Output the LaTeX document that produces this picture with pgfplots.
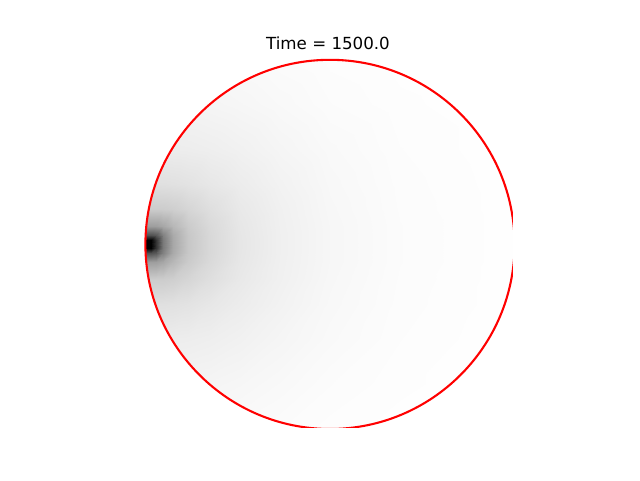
\documentclass[border=0pt]{standalone}
\usepackage{fontspec}
\setmainfont{DejaVu Sans}
\usepackage{pgfplots}
\pgfplotsset{compat=1.18}
\usepackage{pgfplotstable}

% brightness of the field (0 = black, 1 = white), image pixel coordinates
\pgfplotstableread{
x y v
143 57 .975
147 57 .975
151 57 .975
156 57 .975
163 57 .975
173 57 .975
188 57 .976
210 57 .977
240 57 .980
280 57 .986
330 57 .992
400 57 .996
513 57 .999
143 104 .956
147 104 .956
151 104 .956
156 104 .956
163 104 .956
173 104 .956
188 104 .957
210 104 .960
240 104 .966
280 104 .975
330 104 .986
400 104 .993
513 104 .998
143 149 .927
147 149 .927
151 149 .927
156 149 .927
163 149 .927
173 149 .928
188 149 .930
210 149 .935
240 149 .945
280 149 .961
330 149 .977
400 149 .990
513 149 .998
143 184 .877
147 184 .877
151 184 .877
156 184 .877
163 184 .878
173 184 .881
188 184 .889
210 184 .906
240 184 .926
280 184 .949
330 184 .972
400 184 .988
513 184 .997
143 209 .800
147 209 .800
151 209 .800
156 209 .800
163 209 .801
173 209 .811
188 209 .837
210 209 .873
240 209 .912
280 209 .942
330 209 .969
400 209 .987
513 209 .997
143 226 .620
147 226 .620
151 226 .620
156 226 .622
163 226 .656
173 226 .720
188 226 .796
210 226 .854
240 226 .905
280 226 .940
330 226 .967
400 226 .986
513 226 .997
143 235 .320
147 235 .320
151 235 .320
156 235 .350
163 235 .510
173 235 .667
188 235 .782
210 235 .849
240 235 .903
280 235 .939
330 235 .967
400 235 .986
513 235 .997
143 240 0
147 240 0
151 240 0
156 240 .200
163 240 .480
173 240 .660
188 240 .780
210 240 .849
240 240 .902
280 240 .939
330 240 .967
400 240 .986
513 240 .997
143 244 0
147 244 0
151 244 0
156 244 .200
163 244 .480
173 244 .660
188 244 .780
210 244 .849
240 244 .902
280 244 .939
330 244 .967
400 244 .986
513 244 .997
143 248 0
147 248 0
151 248 0
156 248 .200
163 248 .480
173 248 .660
188 248 .780
210 248 .849
240 248 .902
280 248 .939
330 248 .967
400 248 .986
513 248 .997
143 253 .320
147 253 .320
151 253 .320
156 253 .350
163 253 .510
173 253 .667
188 253 .782
210 253 .849
240 253 .903
280 253 .939
330 253 .967
400 253 .986
513 253 .997
143 262 .620
147 262 .620
151 262 .620
156 262 .622
163 262 .656
173 262 .720
188 262 .796
210 262 .854
240 262 .905
280 262 .940
330 262 .967
400 262 .986
513 262 .997
143 279 .800
147 279 .800
151 279 .800
156 279 .800
163 279 .801
173 279 .811
188 279 .837
210 279 .873
240 279 .912
280 279 .942
330 279 .969
400 279 .987
513 279 .997
143 304 .877
147 304 .877
151 304 .877
156 304 .877
163 304 .878
173 304 .881
188 304 .889
210 304 .906
240 304 .926
280 304 .949
330 304 .972
400 304 .988
513 304 .997
143 339 .927
147 339 .927
151 339 .927
156 339 .927
163 339 .927
173 339 .928
188 339 .930
210 339 .935
240 339 .945
280 339 .961
330 339 .977
400 339 .990
513 339 .998
143 384 .956
147 384 .956
151 384 .956
156 384 .956
163 384 .956
173 384 .956
188 384 .957
210 384 .960
240 384 .966
280 384 .975
330 384 .986
400 384 .993
513 384 .998
143 428 .975
147 428 .975
151 428 .975
156 428 .975
163 428 .975
173 428 .975
188 428 .976
210 428 .977
240 428 .980
280 428 .986
330 428 .992
400 428 .996
513 428 .999
}\fielddata

\begin{document}
\begin{tikzpicture}
\useasboundingbox (0,0) rectangle (480pt,360pt);
\begin{axis}[
    at={(107.4pt,39.6pt)}, anchor=south west,
    width=277.2pt, height=277.2pt, scale only axis,
    xmin=143.2, xmax=512.8,
    ymin=57.6, ymax=427.2,
    y dir=reverse,
    hide axis,
    colormap={bw}{gray(0cm)=(0); gray(1cm)=(1)},
    point meta min=0, point meta max=1,
]
\addplot[surf, shader=interp, mesh/cols=13, mesh/rows=17,
    point meta=\thisrow{v}]
    table[x=x, y=y] {\fielddata};
\fill[white, even odd rule]
    (axis cs:120,30) rectangle (axis cs:540,450)
    (axis cs:330.0,244.4) circle[radius=184.6];
\draw[red, line width=1.56pt] (axis cs:330.0,244.4) circle[radius=184.6];
\end{axis}
\node[anchor=base, font=\fontsize{12.5}{15}\selectfont] at (246pt,323.25pt) {Time = 1500.0};
\end{tikzpicture}
\end{document}
